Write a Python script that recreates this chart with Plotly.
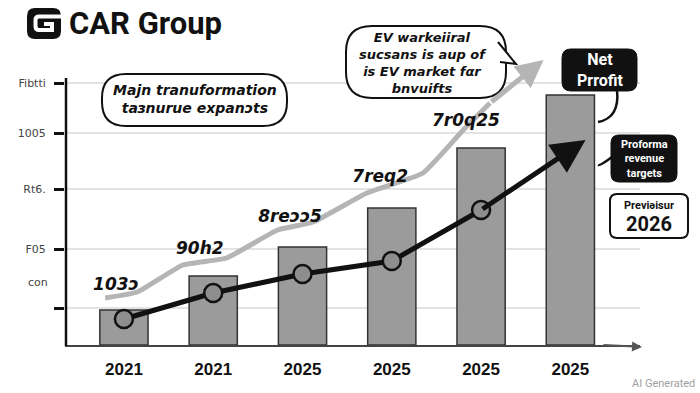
import plotly.graph_objects as go

# ---------------- data ----------------
categories = ["2021", "2021", "2025", "2025", "2025", "2025"]
bar_values = [35, 69, 98, 137, 197, 250]

profit_x = [0, 1, 2, 3, 4]
profit_values = [26, 52, 71, 84, 135]
profit_tip = (5.17, 205)

trend_x = [-0.21, 0.15, 0.66, 1.15, 1.72, 2.12, 2.72, 3.35, 3.80, 4.10]
trend_values = [47, 53, 80, 87, 115, 123, 152, 172, 215, 242]
trend_tip = (4.70, 285)

trend_labels = ["103ɔ", "90h2", "8reɔɔ5", "7req2", "7r0q25"]
trend_label_x = [-0.09, 0.85, 1.86, 2.87, 3.83]
trend_label_y = [59, 95, 127, 167, 223]

ytick_vals = [37, 96, 156, 212, 262]
ytick_text = ["", "F05", "Rt6.", "1005", "Fibtti"]

# ---------------- layout geometry (pixels) ----------------
W, H = 700, 393
L, R, T, B = 65, 60, 45, 48
PW, PH = W - L - R, H - T - B


def px(x):
    return (x - L) / PW


def py(y):
    return (H - B - y) / PH


def pt(x, y):
    return f"{px(x):.5f},{py(y):.5f}"


def rrect(x0, y0, x1, y1, r):
    return (f"M {pt(x0 + r, y0)} L {pt(x1 - r, y0)} Q {pt(x1, y0)} {pt(x1, y0 + r)} "
            f"L {pt(x1, y1 - r)} Q {pt(x1, y1)} {pt(x1 - r, y1)} L {pt(x0 + r, y1)} "
            f"Q {pt(x0, y1)} {pt(x0, y1 - r)} L {pt(x0, y0 + r)} Q {pt(x0, y0)} {pt(x0 + r, y0)} Z")


def label(x, y, text, size, color, family, xanchor="center", **kw):
    return dict(x=px(x), y=py(y), xref="paper", yref="paper", xanchor=xanchor, yanchor="middle",
                text=text, showarrow=False, font=dict(size=size, color=color, family=family),
                align="center", **kw)


fig = go.Figure()

fig.add_trace(go.Bar(
    x=list(range(len(categories))), y=bar_values, width=0.54,
    marker=dict(color="#9b9b9b", line=dict(color="#333333", width=1.5)),
    hoverinfo="skip", showlegend=False))

fig.add_trace(go.Scatter(
    x=trend_x, y=trend_values, mode="lines",
    line=dict(color="#b5b5b5", width=5, shape="spline", smoothing=0.4),
    hoverinfo="skip", showlegend=False))

fig.add_trace(go.Scatter(
    x=profit_x, y=profit_values, mode="lines+markers",
    line=dict(color="#111111", width=5),
    marker=dict(size=18, color="#8e8e8e", line=dict(color="#111111", width=2.5)),
    hoverinfo="skip", showlegend=False))

fig.add_trace(go.Scatter(
    x=trend_label_x, y=trend_label_y, mode="text", text=[f"<b><i>{t}</i></b>" for t in trend_labels],
    textfont=dict(size=17, color="#111111", family="DejaVu Sans"),
    hoverinfo="skip", showlegend=False))

annotations = []
# arrows
annotations.append(dict(x=trend_tip[0], y=trend_tip[1], ax=trend_x[-1], ay=trend_values[-1],
                        xref="x", yref="y", axref="x", ayref="y", text="", showarrow=True,
                        arrowhead=2, arrowsize=1.1, arrowwidth=5, arrowcolor="#b5b5b5"))
annotations.append(dict(x=profit_tip[0], y=profit_tip[1], ax=profit_x[-1], ay=profit_values[-1],
                        xref="x", yref="y", axref="x", ayref="y", text="", showarrow=True,
                        arrowhead=2, arrowsize=1.35, arrowwidth=5, arrowcolor="#111111"))
# x-axis arrow end
annotations.append(dict(x=px(642), y=py(347), ax=-40, ay=-2, xref="paper", yref="paper",
                        text="", showarrow=True,
                        arrowhead=2, arrowsize=1, arrowwidth=2, arrowcolor="#555555"))

shapes = []
# y axis line
shapes.append(dict(type="line", xref="paper", yref="paper", x0=px(66), x1=px(66), y0=py(78), y1=py(346),
                   line=dict(color="#111111", width=2.5), layer="above"))

# Title logo
shapes.append(dict(type="path", xref="paper", yref="paper", path=rrect(27, 8, 61, 39, 8),
                   fillcolor="#111111", line=dict(width=0), layer="above"))
shapes.append(dict(type="path", xref="paper", yref="paper",
                   path=f"M {pt(61, 16.5)} L {pt(39, 16.5)} Q {pt(35.5, 16.5)} {pt(35.5, 20)} L {pt(35.5, 26)} "
                        f"Q {pt(35.5, 30)} {pt(39, 30)} L {pt(52, 30)} L {pt(52, 24)} L {pt(44, 24)}",
                   line=dict(color="white", width=4), layer="above"))
annotations.append(label(67, 24, "<b>CAR Group</b>", 31, "#111111", "Roboto", xanchor="left"))

# Bubble 1
shapes.append(dict(type="path", xref="paper", yref="paper", path=rrect(102, 74, 287, 126, 24),
                   fillcolor="white", line=dict(color="#111111", width=2), layer="above"))
annotations.append(label(195, 99, "<b><i>Majn tranuformation<br>taɜnurue expanɔts</i></b>",
                         14, "#111111", "DejaVu Sans"))

# Bubble 2 with tail
shapes.append(dict(type="path", xref="paper", yref="paper",
                   path=rrect(346, 26, 506, 98, 26),
                   fillcolor="white", line=dict(color="#111111", width=2), layer="above"))
shapes.append(dict(type="path", xref="paper", yref="paper",
                   path=f"M {pt(498, 42)} L {pt(516, 64)} L {pt(500, 62)}",
                   fillcolor="white", line=dict(color="#111111", width=2), layer="above"))
annotations.append(label(423, 63, "<b><i>EV warkeiiral<br>sucsans is aup of<br>is EV market fαr<br>bnvuifts</i></b>",
                         13, "#111111", "DejaVu Sans"))

# Net Profit box
shapes.append(dict(type="path", xref="paper", yref="paper", path=rrect(562, 49, 637, 91, 9),
                   fillcolor="#111111", line=dict(color="#111111", width=1), layer="above"))
shapes.append(dict(type="path", xref="paper", yref="paper",
                   path=f"M {pt(617, 90)} Q {pt(620, 118)} {pt(598, 122)}",
                   line=dict(color="#111111", width=2.5), layer="above"))
annotations.append(label(600, 70, "<b>Net<br>Prrofit</b>", 16, "white", "Roboto"))

# Proforma box
shapes.append(dict(type="path", xref="paper", yref="paper", path=rrect(611, 135, 677, 182, 8),
                   fillcolor="#111111", line=dict(color="#111111", width=1), layer="above"))
shapes.append(dict(type="path", xref="paper", yref="paper",
                   path=f"M {pt(612, 157)} Q {pt(600, 166)} {pt(598, 165)}",
                   line=dict(color="#111111", width=2.5), layer="above"))
annotations.append(label(644, 159, "<b>Proforma<br>revenue<br>targets</b>", 11, "white", "Roboto"))

# Preview 2026 box
shapes.append(dict(type="path", xref="paper", yref="paper", path=rrect(610, 194, 688, 238, 7),
                   fillcolor="white", line=dict(color="#111111", width=2), layer="above"))
annotations.append(label(649, 205, "<b>Previəisur</b>", 11, "#111111", "Roboto"))
annotations.append(label(649, 224, "<b>2026</b>", 20, "#111111", "Roboto"))

# 'con' label
annotations.append(label(50, 282, "con", 11, "#444444", "DejaVu Sans", xanchor="right"))

# watermark
annotations.append(label(697, 383, "AI Generated", 11, "#a0a0a0", "Roboto", xanchor="right"))

fig.update_layout(
    width=W, height=H, margin=dict(l=L, r=R, t=T, b=B, autoexpand=False),
    paper_bgcolor="white", plot_bgcolor="white",
    shapes=shapes, annotations=annotations, showlegend=False,
    xaxis=dict(range=[-0.66, 5.78], tickvals=list(range(len(categories))),
               ticktext=[f"<b>{c}</b>" for c in categories],
               tickfont=dict(size=17, color="#111111", family="Liberation Sans"),
               showgrid=False, zeroline=False, showline=True, linecolor="#444444", linewidth=2,
               ticks="", ticklabelstandoff=8, fixedrange=True, automargin=False),
    yaxis=dict(range=[0, 300], tickvals=ytick_vals, ticktext=ytick_text,
               tickfont=dict(size=11, color="#444444", family="DejaVu Sans"),
               showgrid=True, gridcolor="#e3e3e3", gridwidth=2, zeroline=False, showline=False,
               ticks="outside", ticklen=10, tickwidth=2.5, tickcolor="#111111", fixedrange=True,
               ticklabelstandoff=6, automargin=False),
)

fig.write_html("out.html", config={"displayModeBar": False},
               post_script="document.body.style.margin='0';document.body.style.overflow='hidden';")
